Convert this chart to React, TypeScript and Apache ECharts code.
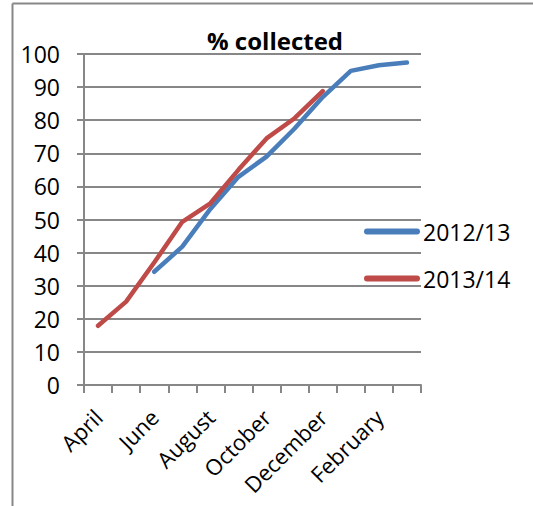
import React, { useEffect, useRef } from "react";
import * as echarts from "echarts";

const categories = ["April", "May", "June", "July", "August", "September", "October", "November", "December", "January", "February", "March"];
const series2012 = [null, null, 34.2, 41.8, 53.2, 62.9, 69.0, 77.5, 87.0, 94.9, 96.6, 97.4];
const series2013 = [17.9, 25.2, 37.0, 49.3, 54.9, 65.0, 74.5, 80.6, 88.8, null, null, null];
const seriesNames = ["2012/13", "2013/14"];
const yTicks = { min: 0, max: 100, interval: 10 };

const FONT = "Open Sans";
const GRAY = "#878787";
const BLUE = "#4A7EBB";
const RED = "#BE4B48";

export default function App() {
  const ref = useRef<HTMLDivElement>(null);
  useEffect(() => {
    if (!ref.current) return;
    const chart = echarts.init(ref.current, null, { renderer: "svg" });
    chart.setOption({
      animation: false,
      backgroundColor: "#ffffff",
      textStyle: { fontFamily: FONT },
      title: {
        text: "% collected",
        left: 270,
        top: 23,
        textAlign: "center",
        textStyle: { fontFamily: FONT, fontSize: 24, fontWeight: "bold", color: "#000" },
      },
      legend: {
        orient: "vertical",
        left: 359,
        top: 215,
        icon: "path://M3,0 L53,0 A3,3 0 0 1 53,6 L3,6 A3,3 0 0 1 3,0 Z",
        itemWidth: 58,
        itemHeight: 6,
        itemGap: 24,
        textStyle: { fontFamily: FONT, fontSize: 23, color: "#000", padding: [0, 0, 0, -3] },
        data: [
          { name: seriesNames[0], itemStyle: { color: BLUE } },
          { name: seriesNames[1], itemStyle: { color: RED } },
        ],
      },
      grid: { left: 84, right: 112, top: 54, bottom: 121, containLabel: false, outerBoundsMode: "none" },
      xAxis: {
        type: "category",
        data: categories,
        boundaryGap: true,
        axisLine: { lineStyle: { color: GRAY, width: 2 } },
        axisTick: { show: true, interval: 0, length: 8, lineStyle: { color: GRAY, width: 2 } },
        axisLabel: { interval: 1, rotate: 45, fontFamily: FONT, fontSize: 22, color: "#000", margin: 28 },
      },
      yAxis: {
        type: "value",
        min: yTicks.min,
        max: yTicks.max,
        interval: yTicks.interval,
        axisLine: { show: true, lineStyle: { color: GRAY, width: 2 } },
        axisTick: { show: true, length: 7, lineStyle: { color: GRAY, width: 2 } },
        splitLine: { show: true, lineStyle: { color: GRAY, width: 2 } },
        axisLabel: { fontFamily: FONT, fontSize: 23, color: "#000", margin: 24 },
      },
      series: [
        {
          name: seriesNames[0],
          type: "line",
          data: series2012,
          symbol: "none",
          color: BLUE,
          lineStyle: { width: 4.5, color: BLUE, cap: "round", join: "round" },
        },
        {
          name: seriesNames[1],
          type: "line",
          data: series2013,
          symbol: "none",
          color: RED,
          lineStyle: { width: 4.5, color: RED, cap: "round", join: "round" },
        },
      ],
      graphic: [
        { type: "line", shape: { x1: 12.5, y1: 3.5, x2: 12.5, y2: 506 }, style: { stroke: GRAY, lineWidth: 2 } },
        { type: "line", shape: { x1: 12.5, y1: 3.5, x2: 533, y2: 3.5 }, style: { stroke: GRAY, lineWidth: 2 } },
      ],
    });
    return () => chart.dispose();
  }, []);
  return <div ref={ref} style={{ position: "absolute", left: 0, top: 0, width: 533, height: 506 }} />;
}
